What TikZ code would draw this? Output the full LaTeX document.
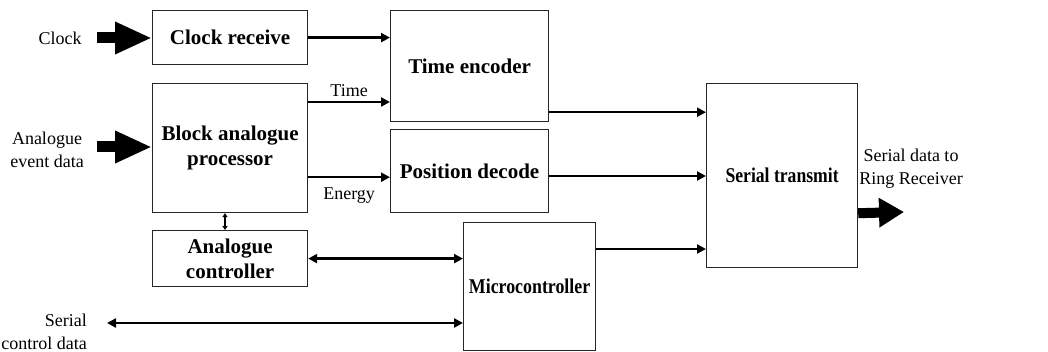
\documentclass[tikz,border=0pt]{standalone}
\usepackage{fontspec}
\setmainfont{Liberation Serif}
\usetikzlibrary{arrows.meta}
\tikzset{
  blk/.style={draw=black!85, line width=1.2pt, anchor=north west, align=center,
    inner sep=0pt, font=\fontsize{21}{25}\selectfont\bfseries},
  lbl/.style={font=\fontsize{18}{23}\selectfont, align=center, inner sep=0pt},
  sig/.style={line width=2.6pt, -{Triangle[length=9pt,width=9pt]}},
  bisig/.style={line width=2.6pt, {Triangle[length=9pt,width=9pt]}-{Triangle[length=9pt,width=9pt]}},
  tiny/.style={line width=1.2pt, {Triangle[length=4pt,width=5pt]}-{Triangle[length=4pt,width=5pt]}},
  fat/.style={line width=11pt, -{Triangle[length=37pt,width=30pt]}},
  fatout/.style={line width=10pt, -{Triangle[length=25pt,width=28pt]}},
}
\begin{document}
\begin{tikzpicture}[x=1pt,y=-1pt]
\useasboundingbox (0,0) rectangle (1048,352);

% processing blocks
\node[blk, minimum width=155pt, minimum height=54pt]  (cr)  at (152,10)  {Clock receive};
\node[blk, minimum width=155pt, minimum height=129pt] (bap) at (152,83)  {Block analogue\\processor};
\node[blk, minimum width=155pt, minimum height=56pt]  (ac)  at (152,230) {Analogue\\controller};
\node[blk, minimum width=158pt, minimum height=111pt] (te)  at (390,10)  {Time encoder};
\node[blk, minimum width=158pt, minimum height=83pt]  (pd)  at (390,129) {Position decode};
\node[blk, minimum width=132pt, minimum height=128pt] (mc)  at (463,222) {\scalebox{0.85}[1]{Microcontroller}};
\node[blk, minimum width=151pt, minimum height=184pt] (st)  at (706,83)  {\scalebox{0.84}[1]{Serial transmit}};

% external signals
\node[lbl] (clk) at (60,38) {Clock};
\node[lbl] (aed) at (47,150) {Analogue\\event data};
\node[lbl, align=right, anchor=east] (scdl) at (87,332) {Serial\\control data};
\node[lbl] (outl) at (911,169) {Serial data to\\Ring Receiver};

\coordinate (clkin) at (97,38);
\coordinate (aein) at (97,147);
\coordinate (scd) at (107,323);
\coordinate (out) at (904,212);

% wide input/output buses
\draw[fat] (clkin) -- (clkin -| cr.west);
\draw[fat] (aein) -- (aein -| bap.west);
\draw[fatout] ([yshift=55pt]st.south east) -- (out);

% signal connections
\draw[sig] (cr.east) -- (cr.east -| te.west);
\draw[sig] ([yshift=-19pt]bap.north east) coordinate (t0) -- (t0 -| te.west)
  node[lbl, midway, above=4pt] (tl) {Time};
\draw[sig] ([yshift=36pt]bap.south east) coordinate (e0) -- (e0 -| pd.west)
  node[lbl, midway, below=9pt] (el) {Energy};
\draw[sig] ([yshift=10pt]te.south east) coordinate (t1) -- (t1 -| st.west);
\draw[sig] ([yshift=-47pt]pd.north east) coordinate (p1) -- (p1 -| st.west);
\draw[sig] ([yshift=-27pt]mc.north east) coordinate (m1) -- (m1 -| st.west);
\draw[bisig] (ac.east) -- (ac.east -| mc.west);
\draw[bisig] (scd) -- (scd -| mc.west);
\draw[tiny] ([xshift=73pt]bap.south west) -- ([xshift=73pt]ac.north west);
\end{tikzpicture}
\end{document}
